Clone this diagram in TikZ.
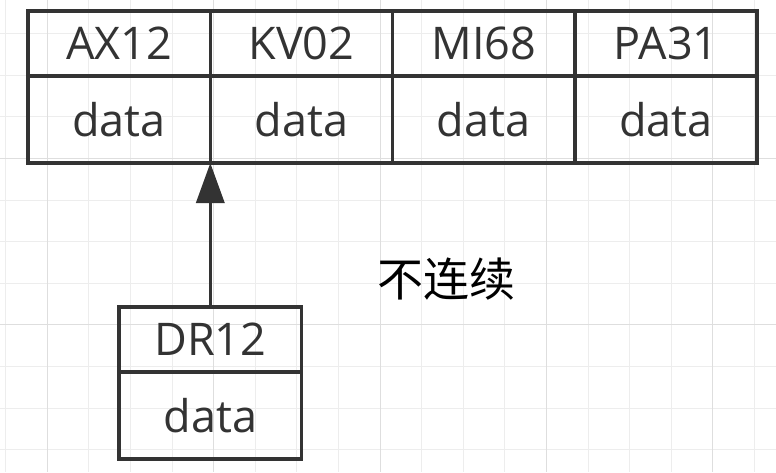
\documentclass[tikz,border=0pt]{standalone}
\usepackage{fontspec}
\setmainfont{Open Sans}
\newfontfamily\cjk{Noto Sans CJK SC}
\usetikzlibrary{positioning,arrows.meta}

\definecolor{linecol}{HTML}{333333}
\definecolor{gridminor}{HTML}{EDEDED}
\definecolor{gridmajor}{HTML}{DEDEDE}

\begin{document}
\begin{tikzpicture}[
  x=1pt, y=-1pt, >={Triangle[length=40pt,width=28pt]},
  font=\fontsize{45}{52}\selectfont,
  key cell/.style={draw=linecol,text=linecol,line width=3.5pt,minimum width=182.3pt,
    minimum height=65pt,inner sep=0pt,outer sep=0pt},
  data cell/.style={key cell,minimum height=87pt},
  minor grid/.style={draw=gridminor,line width=1pt},
  major grid/.style={draw=gridmajor,line width=1pt}
]
\useasboundingbox (0,0) rectangle (776,472);
\fill[white] (0,0) rectangle (776,472);

% background grid
\foreach \i in {0,...,18}
  \draw[minor grid] ({5.6+41.6*\i},0) -- ++(0,472);
\foreach \j in {1,...,11}
  \draw[minor grid] (0,{-8+41.6*\j}) -- ++(776,0);
\foreach \i in {1,5,9,13,17}
  \draw[major grid] ({5.6+41.6*\i},0) -- ++(0,472);
\foreach \j in {4,8}
  \draw[major grid] (0,{-8+41.6*\j}) -- ++(776,0);

% keys
\node[key cell,anchor=north west] (ax12) at (28,11) {AX12};
\node[key cell,right=0pt of ax12] (kv02) {KV02};
\node[key cell,right=0pt of kv02] (mi68) {MI68};
\node[key cell,right=0pt of mi68] (pa31) {PA31};

% data
\node[data cell,below=0pt of ax12] (ax12d) {data};
\node[data cell,below=0pt of kv02] (kv02d) {data};
\node[data cell,below=0pt of mi68] (mi68d) {data};
\node[data cell,below=0pt of pa31] (pa31d) {data};

% the record that does not follow
\node[key cell,below=144pt of ax12d.south east] (dr12) {DR12};
\node[data cell,below=0pt of dr12] (dr12d) {data};

\draw[->,draw=linecol,fill=linecol,line width=3.5pt] (dr12) -- (ax12d.south east);

\node[font=\cjk\fontsize{46}{50}\selectfont] (gap) at (446,279) {不连续};
\end{tikzpicture}
\end{document}
